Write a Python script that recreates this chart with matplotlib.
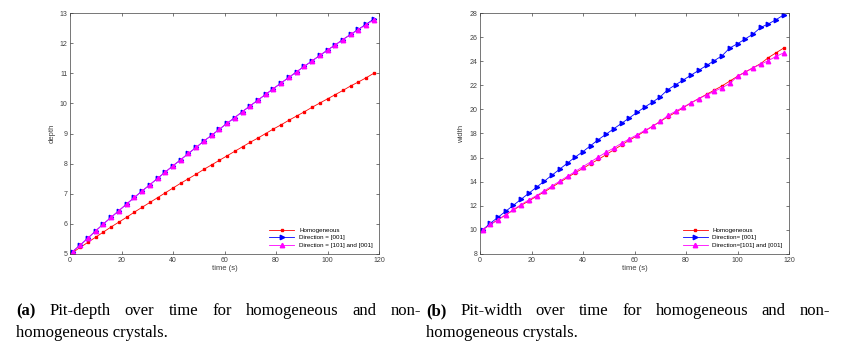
import matplotlib.pyplot as plt

plt.rcParams['font.family'] = ['Liberation Sans', 'DejaVu Sans']

# time samples (s)
time = list(range(1, 119, 3))

# pit depth
depth_homog = [5.05, 5.22, 5.39, 5.56, 5.73, 5.90, 6.06, 6.22, 6.39, 6.55,
               6.71, 6.87, 7.03, 7.19, 7.35, 7.50, 7.65, 7.81, 7.96, 8.11,
               8.26, 8.41, 8.56, 8.71, 8.85, 9.00, 9.15, 9.29, 9.44, 9.58,
               9.72, 9.87, 10.01, 10.15, 10.29, 10.43, 10.58, 10.71, 10.85, 11.00]
depth_001 = [5.08, 5.30, 5.53, 5.77, 6.00, 6.22, 6.44, 6.66, 6.88, 7.09,
             7.30, 7.51, 7.72, 7.93, 8.13, 8.34, 8.54, 8.75, 8.94, 9.14,
             9.34, 9.53, 9.73, 9.92, 10.11, 10.30, 10.49, 10.68, 10.86, 11.05,
             11.23, 11.41, 11.59, 11.77, 11.94, 12.12, 12.29, 12.46, 12.63, 12.80]
depth_101 = [5.08, 5.30, 5.53, 5.77, 6.00, 6.22, 6.44, 6.66, 6.88, 7.09,
             7.30, 7.51, 7.72, 7.93, 8.13, 8.34, 8.54, 8.75, 8.94, 9.14,
             9.34, 9.53, 9.73, 9.92, 10.11, 10.30, 10.49, 10.68, 10.86, 11.05,
             11.23, 11.41, 11.59, 11.77, 11.94, 12.12, 12.29, 12.45, 12.61, 12.77]

# pit width
width_homog = [10.0, 10.45, 10.85, 11.25, 11.65, 12.05, 12.4, 12.8, 13.15, 13.55,
               13.95, 14.35, 14.75, 15.1, 15.5, 15.85, 16.25, 16.65, 17.05, 17.45,
               17.8, 18.2, 18.6, 19.0, 19.4, 19.75, 20.15, 20.55, 20.9, 21.25,
               21.6, 21.95, 22.35, 22.75, 23.1, 23.45, 23.8, 24.3, 24.7, 25.1]
width_001 = [10.0, 10.55, 11.05, 11.55, 12.05, 12.55, 13.05, 13.55, 14.05, 14.55,
             15.05, 15.55, 16.05, 16.5, 17.0, 17.5, 17.95, 18.4, 18.85, 19.3,
             19.75, 20.2, 20.6, 21.05, 21.65, 22.05, 22.45, 22.85, 23.25, 23.65,
             24.05, 24.45, 25.1, 25.45, 25.85, 26.25, 26.8, 27.1, 27.45, 27.85]
width_101 = [10.0, 10.45, 10.85, 11.25, 11.7, 12.1, 12.5, 12.85, 13.25, 13.65,
             14.05, 14.45, 14.85, 15.25, 15.65, 16.05, 16.45, 16.8, 17.2, 17.55,
             17.9, 18.25, 18.6, 19.0, 19.5, 19.85, 20.2, 20.55, 20.9, 21.2,
             21.5, 21.8, 22.15, 22.75, 23.1, 23.45, 23.75, 24.05, 24.4, 24.7]

labels_a = ['Homogeneous', 'Direction = [001]', 'Direction = [101] and [001]']
labels_b = ['Homogeneous', 'Direction= [001]', 'Direction=[101] and [001]']

caption_a = ['(a)', 'Pit-depth over time for homogeneous and non-', 'homogeneous crystals.']
caption_b = ['(b)', 'Pit-width over time for homogeneous and non-', 'homogeneous crystals.']

fig = plt.figure(figsize=(8.43, 3.5), dpi=100)
ax1 = fig.add_axes([70 / 843, 96 / 350, 309 / 843, 241 / 350])
ax2 = fig.add_axes([480 / 843, 96 / 350, 309 / 843, 241 / 350])

def draw(ax, ys, labels, ylabel, ylim, yticks):
  ax.plot(time, ys[0], '-s', color='red', lw=0.6, ms=2.0, label=labels[0])
  ax.plot(time, ys[1], '->', color='blue', lw=0.6, ms=3.2, label=labels[1])
  ax.plot(time, ys[2], '-^', color='magenta', lw=0.6, ms=3.2, label=labels[2])
  ax.set_xlim(0, 120)
  ax.set_ylim(*ylim)
  ax.set_xticks(range(0, 121, 20))
  ax.set_yticks(yticks)
  ax.set_xlabel('time (s)', fontsize=5.5, color='#404040', labelpad=1)
  ax.set_ylabel(ylabel, fontsize=5.5, color='#404040', labelpad=3)
  ax.tick_params(direction='in', top=True, right=True, length=2.5, width=0.5,
                 labelsize=5, colors='#404040', pad=2)
  for s in ax.spines.values():
    s.set_linewidth(0.5)
    s.set_color('#404040')
  ax.legend(loc='lower right', fontsize=4.5, frameon=False,
            handlelength=4, borderaxespad=0.6, labelspacing=0.3)

draw(ax1, [depth_homog, depth_001, depth_101], labels_a, 'depth', (5, 13), range(5, 14))
draw(ax2, [width_homog, width_001, width_101], labels_b, 'width', (8, 28), range(8, 29, 2))

# justified captions
fig.canvas.draw()
renderer = fig.canvas.get_renderer()

def caption(parts, x0, x1):
  fs = 12
  words = [parts[0]] + parts[1].split()
  texts = []
  total = 0
  for i, w in enumerate(words):
    t = fig.text(0, 0, w, fontsize=fs, family='Liberation Serif',
                 fontweight='bold' if i == 0 else 'normal', va='baseline')
    wpx = t.get_window_extent(renderer).width
    texts.append((t, wpx))
    total += wpx
  gap = (x1 - x0 - total) / (len(words) - 1)
  x = x0
  for t, wpx in texts:
    t.set_position((x / 843, 1 - 315 / 350))
    x += wpx + gap
  fig.text(x0 / 843, 1 - 337 / 350, parts[2], fontsize=fs,
           family='Liberation Serif', va='baseline')

caption(caption_a, 16, 421)
caption(caption_b, 426, 830)

fig.savefig('out.png', dpi=100)
